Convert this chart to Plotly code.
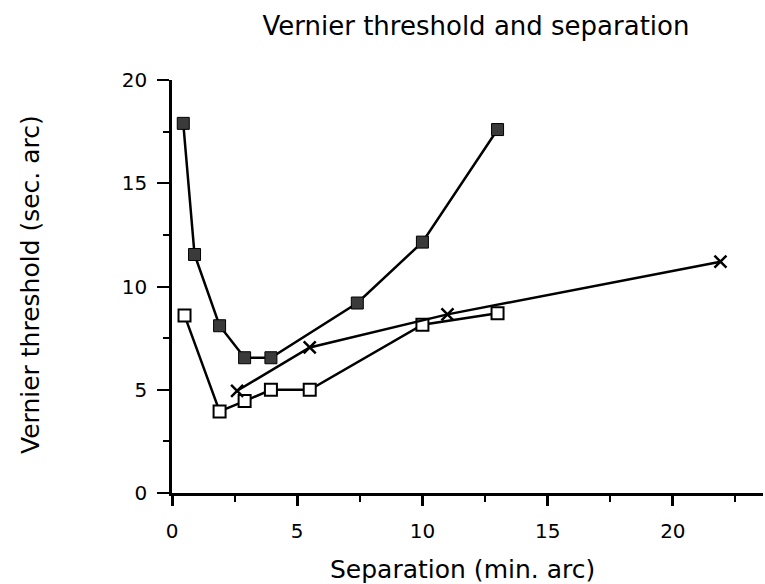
import plotly.graph_objects as go

# Data
filled_x = [0.45, 0.9, 1.9, 2.9, 3.95, 7.4, 10.0, 13.0]
filled_y = [17.9, 11.55, 8.1, 6.55, 6.55, 9.2, 12.15, 17.6]

open_x = [0.5, 1.9, 2.9, 3.95, 5.5, 10.0, 13.0]
open_y = [8.6, 3.95, 4.45, 5.0, 5.0, 8.15, 8.7]

cross_x = [2.6, 5.5, 11.0, 21.9]
cross_y = [4.95, 7.05, 8.65, 11.2]

x_ticks = [0, 5, 10, 15, 20]
y_ticks = [0, 5, 10, 15, 20]

FONT = "DejaVu Sans, Liberation Sans, Arial, sans-serif"

fig = go.Figure()
fig.add_trace(go.Scatter(
    x=filled_x, y=filled_y, mode="lines+markers",
    line=dict(color="black", width=2.5),
    marker=dict(symbol="square", size=12, color="#3a3a3a",
                line=dict(color="black", width=1)),
    showlegend=False))
fig.add_trace(go.Scatter(
    x=open_x, y=open_y, mode="lines+markers",
    line=dict(color="black", width=2.5),
    marker=dict(symbol="square", size=12, color="white",
                line=dict(color="black", width=2)),
    showlegend=False))
fig.add_trace(go.Scatter(
    x=cross_x, y=cross_y, mode="lines+markers",
    line=dict(color="black", width=2.5),
    marker=dict(symbol="x-thin", size=12, color="black",
                line=dict(color="black", width=2.5)),
    showlegend=False))

fig.update_layout(
    width=765, height=584,
    margin=dict(l=172, r=2, t=80, b=91),
    paper_bgcolor="white", plot_bgcolor="white",
    font=dict(family=FONT, color="black"),
    title=dict(text="Vernier threshold and separation",
               x=476 / 765, xanchor="center", xref="container",
               y=1 - 26 / 584, yanchor="middle", yref="container",
               font=dict(size=26, color="black", family=FONT)),
)

fig.update_xaxes(
    range=[0, 23.6], showgrid=False, zeroline=False,
    showline=True, linecolor="black", linewidth=2.5,
    tickmode="array", tickvals=x_ticks, ticktext=[str(v) for v in x_ticks],
    ticks="outside", ticklen=10, tickwidth=2.5, tickcolor="black",
    tickfont=dict(size=20, family=FONT, color="black"),
    ticklabelstandoff=8,
    minor=dict(dtick=2.5, tick0=0, ticks="outside", ticklen=6,
               tickwidth=2, tickcolor="black", showgrid=False),
)
fig.update_yaxes(
    range=[0, 20], showgrid=False, zeroline=False,
    showline=True, linecolor="black", linewidth=2.5,
    tickmode="array", tickvals=y_ticks, ticktext=[str(v) for v in y_ticks],
    ticks="outside", ticklen=12, tickwidth=2, tickcolor="black",
    tickfont=dict(size=20, family=FONT, color="black"),
    ticklabelstandoff=6,
    minor=dict(dtick=2.5, tick0=0, ticks="outside", ticklen=6,
               tickwidth=2, tickcolor="black", showgrid=False),
)

fig.add_annotation(
    text="Separation (min. arc)", xref="paper", yref="paper",
    x=(462 - 172) / 591, y=(493 - 569) / 413,
    xanchor="center", yanchor="middle", showarrow=False,
    font=dict(size=25, family=FONT, color="black"))
fig.add_annotation(
    text="Vernier threshold (sec. arc)", xref="paper", yref="paper",
    x=(30 - 172) / 591, y=(493 - 285) / 413, textangle=-90,
    xanchor="center", yanchor="middle", showarrow=False,
    font=dict(size=25, family=FONT, color="black"))

fig.write_html("out.html")
